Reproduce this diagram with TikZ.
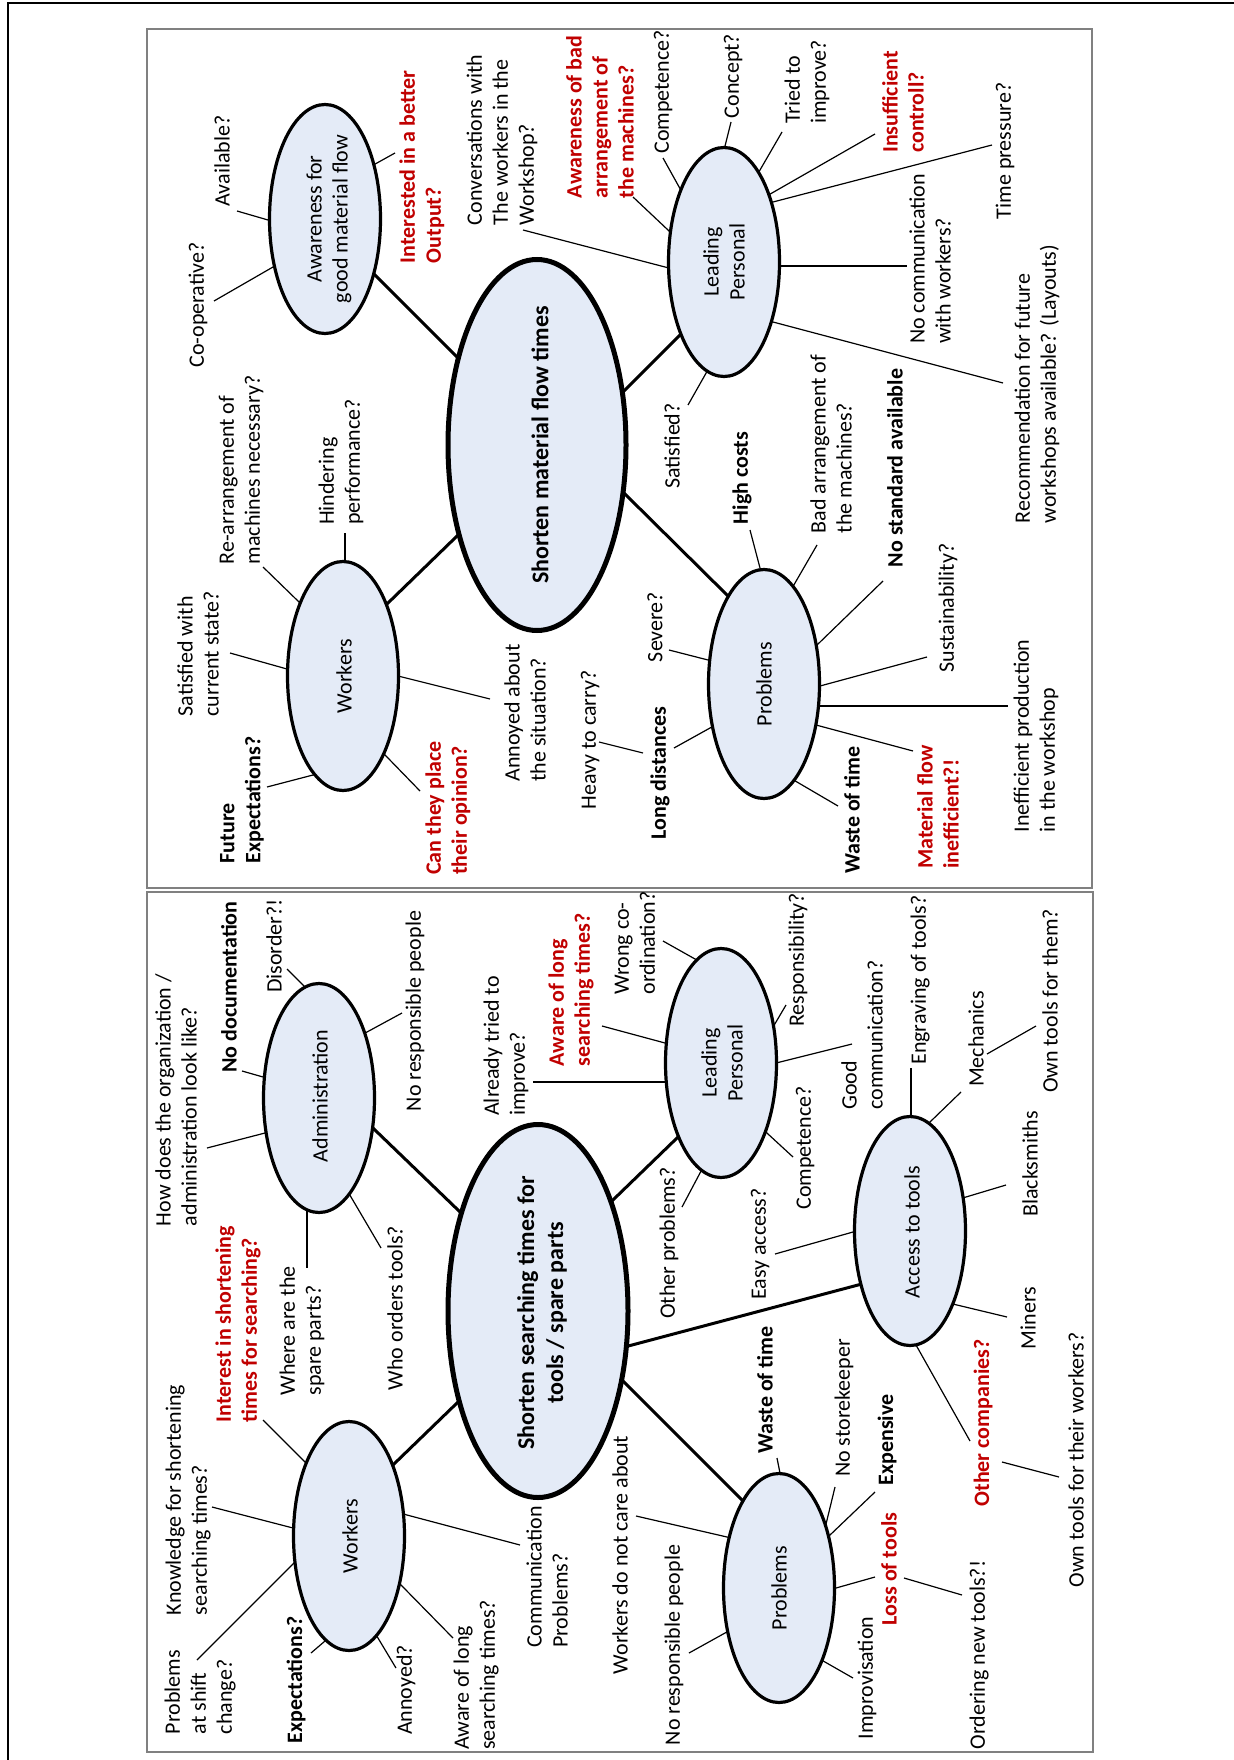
\documentclass[tikz,border=0pt]{standalone}
\usepackage{fontspec}
\setmainfont{Carlito}
\usetikzlibrary{shapes.geometric}
\pgfdeclarelayer{bg}
\pgfsetlayers{bg,main}
\definecolor{bubblefill}{RGB}{228,235,247}
\definecolor{warnred}{RGB}{192,0,0}

\begin{document}
\begin{tikzpicture}[x=0.5pt,y=-0.5pt,
  bubble/.style={ellipse, draw=black, line width=1.6pt, fill=bubblefill,
    minimum width=55.5pt, minimum height=114.5pt, inner sep=0pt},
  hub/.style={bubble, line width=2.5pt},
  txt/.style={rotate=90, inner sep=0pt, align=left, font=\fontsize{11}{13}\selectfont},
  ctxt/.style={txt, align=center},
  strong/.style={txt, font=\fontsize{11}{13}\selectfont\bfseries},
  redlbl/.style={strong, text=warnred},
  hubtxt/.style={rotate=90, inner sep=0pt, align=center, font=\fontsize{12}{14.5}\selectfont\bfseries},
  spoke/.style={line width=0.6pt, shorten <=-3pt},
  twig/.style={line width=0.6pt},
  link/.style={line width=1.5pt, shorten <=-4pt, shorten >=-4pt},
  panel/.style={draw=gray, line width=0.8pt}
]
\useasboundingbox (0,0) rectangle (1234,1760);

% outer frame and the two panels
\draw[line width=1.3pt] (8,1760) -- (8,3) -- (1234,3);
\draw[panel] (147,29) rectangle (1092,888);
\draw[panel] (147,892) rectangle (1093,1752);

% ---------- material flow map ----------
\node[hub, minimum width=89pt, minimum height=185.5pt] (C1) at (537,445) {};
\node[bubble] (AW) at (325,219) {};
\node[bubble] (LT) at (724,262) {};
\node[bubble] (WT) at (343,676) {};
\node[bubble] (PT) at (764,684) {};

\node[hubtxt] (C1t) at (540,445) {Shorten material flow times};
\node[ctxt] (AWt) at (329,219) {Awareness for\\good material flow};
\node[ctxt] (LTt) at (724,262) {Leading\\Personal};
\node[txt] (WTt) at (344,676) {Workers};
\node[txt] (PTt) at (764,684) {Problems};

\node[txt] (tA1) at (198,305) {Co-operative?};
\node[txt] (tA2) at (222,161) {Available?};
\node[redlbl] (tA3) at (422,167) {Interested in a better\\Output?};
\node[txt] (tL1) at (502,140) {Conversations with\\The workers in the\\Workshop?};
\node[redlbl] (tL2) at (600,117) {Awareness of bad\\arrangement of\\the machines?};
\node[txt] (tL3) at (663,92) {Competence?};
\node[txt] (tL4) at (733,76) {Concept?};
\node[txt] (tL5) at (807,82) {Tried to\\improve?};
\node[redlbl] (tL6) at (903,102) {Insufficient\\controll?};
\node[txt] (tL7) at (1005,151) {Time pressure?};
\node[txt] (tL8) at (930,259) {No communication\\with workers?};
\node[txt] (tL9) at (1037,384) {Recommendation for future\\workshops available? (Layouts)};
\node[txt] (tL10) at (672,446) {Satisfied?};
\node[txt] (tW1) at (198,654) {Satisfied with\\current state?};
\node[txt] (tW2) at (241,470) {Re-arrangement of\\machines necessary?};
\node[txt] (tW3) at (341,462) {Hindering\\performance?};
\node[strong] (tW4) at (242,800) {Future\\Expectations?};
\node[redlbl] (tW5) at (448,808) {Can they place\\their opinion?};
\node[txt] (tW6) at (525,713) {Annoyed about\\the situation?};
\node[txt] (tP1) at (655,627) {Severe?};
\node[txt] (tP2) at (590,740) {Heavy to carry?};
\node[strong] (tP3) at (660,773) {Long distances};
\node[strong] (tP4) at (742,478) {High costs};
\node[txt] (tP5) at (831,444) {Bad arrangement of\\the machines?};
\node[strong] (tP6) at (895,468) {No standard available};
\node[txt] (tP7) at (948,608) {Sustainability?};
\node[txt] (tP8) at (1036,736) {Inefficient production\\in the workshop};
\node[redlbl] (tP9) at (938,807) {Material flow\\inefficient?!};
\node[strong] (tP10) at (852,810) {Waste of time};

% ---------- searching times map ----------
\node[hub, minimum width=90pt, minimum height=186.5pt] (C2) at (538,1311) {};
\node[bubble] (AD) at (319,1098) {};
\node[bubble] (LB) at (721,1063) {};
\node[bubble] (WB) at (349,1536) {};
\node[bubble] (PB) at (779,1588) {};
\node[bubble] (AC) at (910,1231) {};

\node[hubtxt] (C2t) at (542,1313) {Shorten searching times for\\tools / spare parts};
\node[txt] (ADt) at (320,1096) {Administration};
\node[ctxt] (LBt) at (722,1063) {Leading\\Personal};
\node[txt] (WBt) at (350,1536) {Workers};
\node[txt] (PBt) at (779,1588) {Problems};
\node[txt] (ACt) at (912,1232) {Access to tools};

\node[txt] (tD1) at (176,1100) {How does the organization /\\administration look like?};
\node[strong] (tD2) at (229,987) {No documentation};
\node[txt] (tD3) at (274,946) {Disorder?!};
\node[txt] (tD4) at (415,1011) {No responsible people};
\node[txt] (tD5) at (395,1308) {Who orders tools?};
\node[txt] (tD6) at (302,1331) {Where are the\\spare parts?};
\node[redlbl] (tB1) at (238,1324) {Interest in shortening\\times for searching?};
\node[txt] (tB2) at (188,1500) {Knowledge for shortening\\searching times?};
\node[txt] (tB3) at (200,1692) {Problems\\at shift\\change?};
\node[strong] (tB4) at (296,1680) {Expectations?};
\node[txt] (tB5) at (406,1690) {Annoyed?};
\node[txt] (tB6) at (476,1675) {Aware of long\\searching times?};
\node[txt] (tB7) at (547,1577) {Communication\\Problems?};
\node[txt] (tQ1) at (620,1555) {Workers do not care about};
\node[txt] (tQ2) at (674,1645) {No responsible people};
\node[strong] (tQ3) at (765,1390) {Waste of time};
\node[txt] (tQ4) at (844,1408) {No storekeeper};
\node[strong] (tQ5) at (887,1440) {Expensive};
\node[redlbl] (tQ6) at (889,1569) {Loss of tools};
\node[txt] (tQ7) at (979,1655) {Ordering new tools?!};
\node[txt] (tQ8) at (867,1678) {Improvisation};
\node[txt] (tM1) at (506,1046) {Already tried to\\improve?};
\node[redlbl] (tM2) at (571,990) {Aware of long\\searching times?};
\node[txt] (tM3) at (635,943) {Wrong co-\\ordination?};
\node[txt] (tM4) at (798,960) {Responsibility?};
\node[txt] (tM5) at (862,1035) {Good\\communication?};
\node[txt] (tM6) at (805,1148) {Competence?};
\node[txt] (tM7) at (669,1243) {Other problems?};
\node[txt] (tC1) at (760,1244) {Easy access?};
\node[txt] (tC2) at (920,980) {Engraving of tools?};
\node[txt] (tC3) at (976,1039) {Mechanics};
\node[txt] (tC4) at (1050,1001) {Own tools for them?};
\node[txt] (tC5) at (1030,1164) {Blacksmiths};
\node[txt] (tC6) at (1028,1318) {Miners};
\node[redlbl] (tC7) at (983,1423) {Other companies?};
\node[txt] (tC8) at (1076,1460) {Own tools for their workers?};

% ---------- connectors, behind the bubbles ----------
\begin{pgfonlayer}{bg}
% hub links
\draw[link] ([shift={(52,58)}]AW.center) -- ([shift={(-82,-90)}]C1.center);
\draw[link] ([shift={(90,-57)}]C1.center) -- ([shift={(-46,75)}]LT.center);
\draw[link] ([shift={(45,-73)}]WT.center) -- ([shift={(-82,93)}]C1.center);
\draw[link] ([shift={(91,52)}]C1.center) -- ([shift={(-37,-89)}]PT.center);

\draw[link] ([shift={(56,32)}]AD.center) -- ([shift={(-80,-101)}]C2.center);
\draw[link] ([shift={(77,-113)}]C2.center) -- ([shift={(-44,75)}]LB.center);
\draw[link] ([shift={(46,-73)}]WB.center) -- ([shift={(-81,92)}]C2.center);
\draw[link] ([shift={(89,74)}]C2.center) -- ([shift={(-37,-88)}]PB.center);
\draw[link] ([shift={(94,34)}]C2.center) -- ([shift={(-52,54)}]AC.center);

% awareness spokes
\coordinate (ea1) at (214,301); \draw[spoke] ([shift={(-52,48)}]AW.center) -- (ea1);
\coordinate (ea2) at (237,211); \draw[spoke] ([shift={(-57,1)}]AW.center) -- (ea2);
\coordinate (ea3) at (395,153); \draw[spoke] ([shift={(52,-56)}]AW.center) -- (ea3);

% leading personal spokes (top)
\coordinate (el1) at (523,230);  \draw[spoke] ([shift={(-59,5)}]LT.center) -- (el1);
\coordinate (el2) at (633,197);  \draw[spoke] ([shift={(-56,-32)}]LT.center) -- (el2);
\coordinate (el3) at (663,158);  \draw[spoke] ([shift={(-46,-77)}]LT.center) -- (el3);
\coordinate (el4) at (731,122);  \draw[spoke] ([shift={(1,-116)}]LT.center) -- (el4);
\coordinate (el5) at (782,132);  \draw[spoke] ([shift={(36,-92)}]LT.center) -- (el5);
\coordinate (el6) at (875,134);  \draw[spoke] ([shift={(48,-69)}]LT.center) -- (el6);
\coordinate (el7) at (992,145);  \draw[spoke] ([shift={(49,-60)}]LT.center) -- (el7);
\coordinate (el8) at (907,266);  \draw[spoke] ([shift={(56,4)}]LT.center) -- (el8);
\coordinate (el9) at (1003,383); \draw[spoke] ([shift={(49,60)}]LT.center) -- (el9);
\coordinate (el10) at (688,405); \draw[spoke] ([shift={(-19,113)}]LT.center) -- (el10);

% workers spokes (top)
\coordinate (ew1) at (230,653); \draw[spoke] ([shift={(-56,-7)}]WT.center) -- (ew1);
\coordinate (ew2) at (263,567); \draw[spoke] ([shift={(-44,-74)}]WT.center) -- (ew2);
\coordinate (ew3) at (345,533); \draw[spoke] ([shift={(2,-116)}]WT.center) -- (ew3);
\coordinate (ew4) at (267,787); \draw[spoke] ([shift={(-30,99)}]WT.center) -- (ew4);
\coordinate (ew5) at (420,791); \draw[spoke] ([shift={(44,81)}]WT.center) -- (ew5);
\coordinate (ew6) at (490,699); \draw[spoke] ([shift={(59,1)}]WT.center) -- (ew6);

% problems spokes (top)
\coordinate (ep1) at (669,650);  \draw[spoke] ([shift={(-56,-24)}]PT.center) -- (ep1);
\coordinate (ep2) at (674,748);  \draw[spoke] ([shift={(-54,44)}]PT.center) -- (ep2);
\coordinate (ep3) at (750,530);  \draw[spoke] ([shift={(-4,-116)}]PT.center) -- (ep3);
\coordinate (ep4) at (817,545);  \draw[spoke] ([shift={(31,-101)}]PT.center) -- (ep4);
\coordinate (ep5) at (883,581);  \draw[spoke] ([shift={(53,-39)}]PT.center) -- (ep5);
\coordinate (ep6) at (927,657);  \draw[spoke] ([shift={(56,2)}]PT.center) -- (ep6);
\coordinate (ep7) at (1008,706); \draw[spoke] ([shift={(55,22)}]PT.center) -- (ep7);
\coordinate (ep8) at (913,751);  \draw[spoke] ([shift={(52,41)}]PT.center) -- (ep8);
\coordinate (ep9) at (838,806);  \draw[spoke] ([shift={(33,98)}]PT.center) -- (ep9);
\coordinate (hv1) at (599,742); \coordinate (hv2) at (643,753); \draw[twig] (hv1) -- (hv2);

% administration spokes
\coordinate (ed1) at (207,1148); \draw[spoke] ([shift={(-54,35)}]AD.center) -- (ed1);
\coordinate (ed2) at (242,1071); \draw[spoke] ([shift={(-56,-21)}]AD.center) -- (ed2);
\coordinate (ed3) at (287,969);  \draw[spoke] ([shift={(-15,-112)}]AD.center) -- (ed3);
\coordinate (ed4) at (402,1013); \draw[spoke] ([shift={(48,-66)}]AD.center) -- (ed4);
\coordinate (ed5) at (381,1248); \draw[spoke] ([shift={(32,99)}]AD.center) -- (ed5);
\coordinate (ed6) at (307,1268); \draw[spoke] ([shift={(-12,115)}]AD.center) -- (ed6);

% workers spokes (bottom)
\coordinate (eb1) at (263,1420); \draw[spoke] ([shift={(-44,-74)}]WB.center) -- (eb1);
\coordinate (eb2) at (212,1507); \draw[spoke] ([shift={(-56,-8)}]WB.center) -- (eb2);
\coordinate (eb3) at (197,1660); \draw[spoke] ([shift={(-56,28)}]WB.center) -- (eb3);
\coordinate (eb4) at (311,1653); \draw[spoke] ([shift={(-24,105)}]WB.center) -- (eb4);
\coordinate (eb5) at (396,1668); \draw[spoke] ([shift={(29,102)}]WB.center) -- (eb5);
\coordinate (eb6) at (453,1638); \draw[spoke] ([shift={(54,51)}]WB.center) -- (eb6);
\coordinate (eb7) at (520,1545); \draw[spoke] ([shift={(58,-21)}]WB.center) -- (eb7);

% problems spokes (bottom)
\coordinate (eq1) at (636,1516); \draw[spoke] ([shift={(-52,-51)}]PB.center) -- (eq1);
\coordinate (eq2) at (689,1653); \draw[spoke] ([shift={(-54,45)}]PB.center) -- (eq2);
\coordinate (eq3) at (777,1458); \draw[spoke] ([shift={(1,-115)}]PB.center) -- (eq3);
\coordinate (eq4) at (835,1487); \draw[spoke] ([shift={(48,-68)}]PB.center) -- (eq4);
\coordinate (eq5) at (875,1492); \draw[spoke] ([shift={(51,-53)}]PB.center) -- (eq5);
\coordinate (eq6) at (875,1577); \draw[spoke] ([shift={(57,0)}]PB.center) -- (eq6);
\coordinate (eq7) at (853,1678); \draw[spoke] ([shift={(46,74)}]PB.center) -- (eq7);
\coordinate (lo1) at (904,1578); \coordinate (lo2) at (962,1595); \draw[twig] (lo1) -- (lo2);

% leading personal spokes (bottom)
\coordinate (em1) at (533,1082); \draw[spoke] ([shift={(-56,19)}]LB.center) -- (em1);
\coordinate (em2) at (602,1026); \draw[spoke] ([shift={(-56,-20)}]LB.center) -- (em2);
\coordinate (em3) at (663,941);  \draw[spoke] ([shift={(-26,-104)}]LB.center) -- (em3);
\coordinate (em4) at (786,1005); \draw[spoke] ([shift={(55,-41)}]LB.center) -- (em4);
\coordinate (em5) at (852,1044); \draw[spoke] ([shift={(59,-1)}]LB.center) -- (em5);
\coordinate (em6) at (793,1157); \draw[spoke] ([shift={(47,71)}]LB.center) -- (em6);
\coordinate (em7) at (682,1207); \draw[spoke] ([shift={(-21,110)}]LB.center) -- (em7);

% access to tools spokes
\coordinate (ec1) at (775,1254);  \draw[spoke] ([shift={(-57,1)}]AC.center) -- (ec1);
\coordinate (ec2) at (911,1068);  \draw[spoke] ([shift={(1,-115)}]AC.center) -- (ec2);
\coordinate (ec3) at (961,1092);  \draw[spoke] ([shift={(21,-110)}]AC.center) -- (ec3);
\coordinate (ec4) at (1006,1185); \draw[spoke] ([shift={(56,-34)}]AC.center) -- (ec4);
\coordinate (ec5) at (1007,1317); \draw[spoke] ([shift={(47,74)}]AC.center) -- (ec5);
\coordinate (ec6) at (970,1441);  \draw[spoke] ([shift={(6,114)}]AC.center) -- (ec6);
\coordinate (me1) at (987,1054);  \coordinate (me2) at (1036,1026); \draw[twig] (me1) -- (me2);
\coordinate (oc1) at (1002,1462); \coordinate (oc2) at (1059,1477); \draw[twig] (oc1) -- (oc2);
\end{pgfonlayer}
\end{tikzpicture}
\end{document}
